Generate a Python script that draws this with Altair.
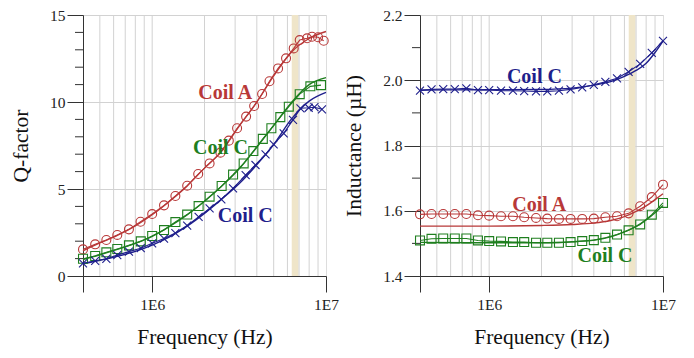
import altair as alt
import pandas as pd

FONT = "Liberation Serif"
RED = "#b83838"
GREEN = "#1f7f1f"
BLUE = "#1f1f8c"
GRID = "#d2d2d2"
AXC = "#333333"
BAND_COLOR = "#efe5c9"

# ---------------- Q-factor panel data ----------------
QA_FREQ = [4.0e5, 4.70e5, 5.45e5, 6.30e5, 7.35e5, 8.57e5, 1.0e6, 1.17e6, 1.36e6, 1.59e6,
           1.84e6, 2.14e6, 2.47e6, 2.76e6, 3.08e6, 3.47e6, 3.86e6, 4.29e6, 4.73e6, 5.30e6,
           5.89e6, 6.52e6, 7.06e6, 7.78e6, 8.31e6, 9.0e6, 9.7e6]
QA_VAL = [1.53, 1.82, 2.07, 2.36, 2.68, 3.12, 3.56, 4.06, 4.60, 5.19,
          5.86, 6.47, 7.09, 7.78, 8.49, 9.16, 9.77, 10.46, 11.19, 11.93,
          12.51, 13.08, 13.56, 13.66, 13.75, 13.72, 13.52]

QG_FREQ = [4.0e5, 4.70e5, 5.45e5, 6.30e5, 7.35e5, 8.6e5, 1.0e6, 1.17e6, 1.36e6, 1.59e6,
           1.85e6, 2.14e6, 2.51e6, 2.92e6, 3.36e6, 3.82e6, 4.33e6, 4.85e6, 5.46e6, 6.11e6,
           7.06e6, 8.13e6, 9.36e6]
QG_VAL = [0.99, 1.15, 1.36, 1.55, 1.76, 1.99, 2.30, 2.64, 3.10, 3.53,
          4.02, 4.56, 5.17, 5.83, 6.47, 7.18, 7.88, 8.49, 9.13, 9.73,
          10.45, 10.90, 10.97]

QB_FREQ = [4.0e5, 4.70e5, 5.45e5, 6.30e5, 7.35e5, 8.6e5, 1.0e6, 1.17e6, 1.36e6, 1.59e6,
           1.85e6, 2.14e6, 2.50e6, 2.92e6, 3.45e6, 3.93e6, 4.49e6, 5.0e6, 5.71e6, 6.46e6,
           7.13e6, 7.95e6, 8.58e6, 9.48e6]
QB_VAL = [0.73, 0.87, 0.99, 1.20, 1.40, 1.60, 1.88, 2.15, 2.47, 2.90,
          3.40, 3.89, 4.41, 5.04, 5.80, 6.38, 6.99, 7.57, 8.20, 8.97,
          9.64, 9.67, 9.70, 9.58]

QM_FREQ = [4e5, 5e5, 6.3e5, 8e5, 1e6, 1.26e6, 1.58e6, 2e6, 2.5e6, 3.16e6, 4e6, 5e6, 6.3e6, 8e6, 1e7]
QA_MODEL = [1.45, 1.90, 2.33, 2.88, 3.52, 4.30, 5.15, 6.20, 7.15, 8.60, 10.00, 11.50, 12.85, 13.65, 14.05]
QG_MODEL = [0.95, 1.22, 1.53, 1.88, 2.28, 2.85, 3.50, 4.30, 5.15, 6.15, 7.40, 8.65, 9.95, 11.00, 11.40]
QB_MODEL = [0.70, 0.90, 1.13, 1.42, 1.78, 2.25, 2.85, 3.60, 4.40, 5.30, 6.40, 7.55, 9.00, 10.05, 10.55]

# ---------------- Inductance panel data ----------------
L_FREQ = [4.00e5, 4.66e5, 5.44e5, 6.34e5, 7.39e5, 8.62e5, 1.00e6, 1.17e6, 1.37e6, 1.59e6,
          1.86e6, 2.16e6, 2.52e6, 2.94e6, 3.43e6, 4.00e6, 4.66e6, 5.44e6, 6.34e6, 7.39e6,
          8.62e6, 1.00e7]
LA_VAL = [1.589, 1.590, 1.590, 1.590, 1.590, 1.586, 1.585, 1.583, 1.583, 1.580,
          1.578, 1.576, 1.575, 1.575, 1.575, 1.576, 1.580, 1.583, 1.592, 1.614,
          1.642, 1.680]
LG_VAL = [1.509, 1.514, 1.515, 1.515, 1.515, 1.509, 1.507, 1.506, 1.504, 1.504,
          1.502, 1.502, 1.502, 1.504, 1.507, 1.510, 1.517, 1.527, 1.540, 1.558,
          1.588, 1.624]
LB_VAL = [1.968, 1.972, 1.973, 1.973, 1.975, 1.970, 1.970, 1.968, 1.968, 1.967,
          1.966, 1.966, 1.968, 1.972, 1.978, 1.986, 1.995, 2.006, 2.026, 2.050,
          2.084, 2.121]

LM_FREQ = [4e5, 1e6, 2e6, 3e6, 4e6, 5e6, 6e6, 7e6, 8e6, 9e6, 1e7]
LA_MODEL = [1.553, 1.553, 1.555, 1.558, 1.562, 1.570, 1.582, 1.598, 1.615, 1.634, 1.652]
LG_MODEL = [1.503, 1.502, 1.502, 1.505, 1.510, 1.520, 1.535, 1.552, 1.572, 1.594, 1.616]
LB_MODEL = [1.970, 1.971, 1.972, 1.976, 1.985, 1.996, 2.012, 2.030, 2.052, 2.085, 2.120]

# ---------------- shared decorations ----------------
BAND = [6.35e6, 6.95e6]
GRID_FREQ = [5e5, 6e5, 7e5, 8e5, 9e5, 1e6, 2e6, 3e6, 4e6, 5e6, 6e6, 7e6, 8e6, 9e6]
X_TICKS = [4e5, 1e6, 1e7]

Q_TICKS = [0, 5, 10, 15]
Q_MINOR = [1, 2, 3, 4, 6, 7, 8, 9, 11, 12, 13, 14]
L_TICKS = [1.4, 1.6, 1.8, 2.0, 2.2]
L_MINOR = [1.5, 1.7, 1.9, 2.1]

Q_LABELS = [("Coil A", 2.63e6, 10.52, RED), ("Coil C", 2.47e6, 7.36, GREEN), ("Coil C", 3.43e6, 3.45, BLUE)]
L_LABELS = [("Coil C", 1.82e6, 2.01, BLUE), ("Coil A", 1.94e6, 1.619, RED), ("Coil C", 4.64e6, 1.460, GREEN)]

W, H = 243, 261
CROSS = "M-1,-1L1,1M-1,1L1,-1"


def panel(meas, models, labels, ydomain, yticks, yminor, yfmt, ytitle):
    xs = alt.Scale(type="log", domain=[4e5, 1e7], nice=False)
    ys = alt.Scale(domain=ydomain, nice=False, zero=False)
    xax = alt.Axis(values=X_TICKS, grid=False, tickSize=16, tickColor=AXC, domainColor=AXC,
                   labelExpr="datum.value == 1000000 ? '1E6' : (datum.value == 10000000 ? '1E7' : '')",
                   labelFont=FONT, labelFontSize=15.5, labelColor="#222", labelPadding=5,
                   titleFont=FONT, titleFontSize=21.5, titleFontWeight="normal", titleColor="#111",
                   titlePadding=14, labelFlush=False, labelOverlap=False)
    yax = alt.Axis(values=yticks, grid=True, gridColor=GRID, tickSize=16, tickColor=AXC,
                   domainColor=AXC, format=yfmt, labelFont=FONT, labelFontSize=15.5,
                   labelColor="#222", labelPadding=2, titleFont=FONT, titleFontSize=21.5,
                   titleFontWeight="normal", titleColor="#111", titlePadding=17, labelFlush=False)
    X = lambda f: alt.X(f, type="quantitative", scale=xs, axis=xax, title="Frequency (Hz)")
    Y = lambda f: alt.Y(f, type="quantitative", scale=ys, axis=yax, title=ytitle)

    layers = []
    band = pd.DataFrame({"f": [BAND[0]], "f2": [BAND[1]]})
    layers.append(alt.Chart(band).mark_rect(color=BAND_COLOR).encode(
        x=X("f"), x2="f2", y=alt.value(0), y2=alt.value(H)))
    grid = pd.DataFrame({"f": GRID_FREQ})
    layers.append(alt.Chart(grid).mark_rule(color=GRID, strokeWidth=1).encode(x=X("f")))
    minor = pd.DataFrame({"v": yminor})
    layers.append(alt.Chart(minor).mark_rule(color=AXC, strokeWidth=1).encode(
        y=Y("v"), x=alt.value(-8), x2=alt.value(0)))

    for freq, vals, color in models:
        d = pd.DataFrame({"f": freq, "v": vals})
        layers.append(alt.Chart(d).mark_line(color=color, strokeWidth=1.4, interpolate="monotone").encode(
            x=X("f"), y=Y("v")))
    for freq, vals, color, shape in meas:
        d = pd.DataFrame({"f": freq, "v": vals})
        layers.append(alt.Chart(d).mark_line(color=color, strokeWidth=1.1).encode(x=X("f"), y=Y("v")))
        size = 64 if shape == CROSS else (80 if shape == "circle" else 80)
        layers.append(alt.Chart(d).mark_point(shape=shape, filled=False, color=color, size=size,
                                              strokeWidth=1.1, opacity=1).encode(x=X("f"), y=Y("v")))
    for text, f, v, color in labels:
        d = pd.DataFrame({"f": [f], "v": [v], "t": [text]})
        layers.append(alt.Chart(d).mark_text(font=FONT, fontSize=20, fontWeight="bold", color=color,
                                             align="center", baseline="middle").encode(
            x=X("f"), y=Y("v"), text="t:N"))
    return alt.layer(*layers).properties(width=W, height=H)


left = panel(
    meas=[(QA_FREQ, QA_VAL, RED, "circle"), (QG_FREQ, QG_VAL, GREEN, "square"), (QB_FREQ, QB_VAL, BLUE, CROSS)],
    models=[(QM_FREQ, QA_MODEL, RED), (QM_FREQ, QG_MODEL, GREEN), (QM_FREQ, QB_MODEL, BLUE)],
    labels=Q_LABELS, ydomain=[0, 15], yticks=Q_TICKS, yminor=Q_MINOR, yfmt="d", ytitle="Q-factor")

right = panel(
    meas=[(L_FREQ, LA_VAL, RED, "circle"), (L_FREQ, LG_VAL, GREEN, "square"), (L_FREQ, LB_VAL, BLUE, CROSS)],
    models=[(LM_FREQ, LA_MODEL, RED), (LM_FREQ, LG_MODEL, GREEN), (LM_FREQ, LB_MODEL, BLUE)],
    labels=L_LABELS, ydomain=[1.4, 2.2], yticks=L_TICKS, yminor=L_MINOR, yfmt=".1f", ytitle="Inductance (µH)")

chart = alt.hconcat(left, right, spacing=94, bounds="flush").properties(
    padding={"left": 10, "top": 7, "right": 5, "bottom": 5}
).configure_view(stroke=AXC, strokeWidth=1).configure(background="white")

chart.save("out.html", embed_options={"renderer": "svg", "actions": False})
